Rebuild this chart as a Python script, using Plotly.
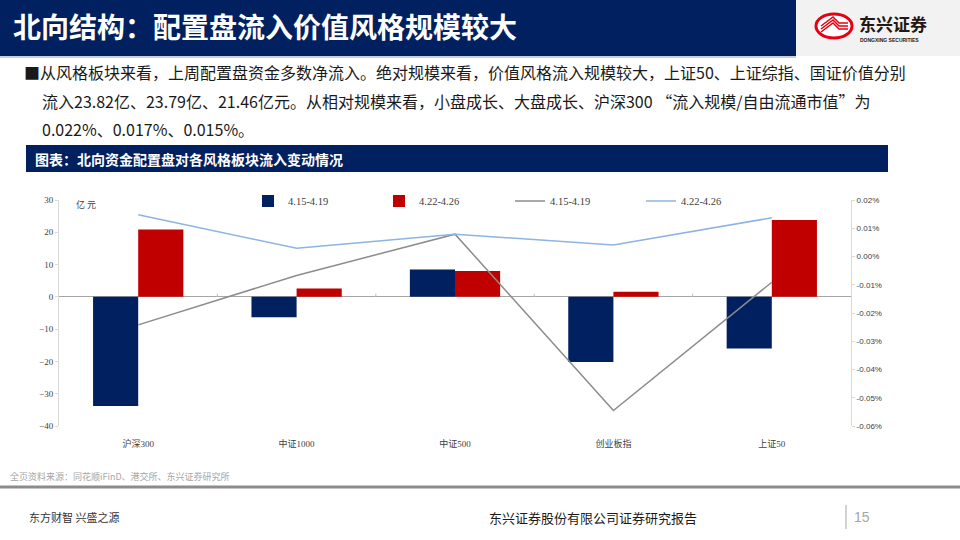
import plotly.graph_objects as go

W, H = 960, 540

categories = ["沪深300", "中证1000", "中证500", "创业板指", "上证50"]
bar_w1 = [-33.8, -6.3, 8.5, -20.2, -16.0]      # 4.15-4.19 亿元
bar_w2 = [20.9, 2.6, 8.0, 1.6, 23.82]          # 4.22-4.26 亿元
line_w1 = [-0.0242, -0.0067, 0.0079, -0.0545, -0.0091]  # 4.15-4.19 %
line_w2 = [0.0148, 0.0029, 0.0079, 0.0041, 0.0137]      # 4.22-4.26 %
series_names = ["4.15-4.19", "4.22-4.26"]
left_ticks = [30, 20, 10, 0, -10, -20, -30, -40]
right_ticks = [0.02, 0.01, 0.0, -0.01, -0.02, -0.03, -0.04, -0.05, -0.06]
right_tick_text = [f"{v:.2f}%" for v in right_ticks]

NAVY = "#002060"
RED = "#C00000"
GRAY = "#8C8C8C"
LBLUE = "#8DB4E2"
CJK = "Noto Sans CJK SC"
SERIF = "Liberation Serif, Noto Sans CJK SC"


def px(x):
    return x / W


def py(y):
    return 1 - y / H


fig = go.Figure()
fig.add_trace(go.Bar(x=categories, y=bar_w1, name=series_names[0],
                     marker=dict(color=NAVY, line=dict(width=0))))
fig.add_trace(go.Bar(x=categories, y=bar_w2, name=series_names[1],
                     marker=dict(color=RED, line=dict(width=0))))
fig.add_trace(go.Scatter(x=categories, y=line_w1, name=series_names[0], yaxis="y2",
                         mode="lines", line=dict(color=GRAY, width=1.5)))
fig.add_trace(go.Scatter(x=categories, y=line_w2, name=series_names[1], yaxis="y2",
                         mode="lines", line=dict(color=LBLUE, width=1.5)))

shapes = []
annotations = []

# header
shapes.append(dict(type="rect", xref="paper", yref="paper", x0=0, x1=px(796), y0=py(56), y1=1,
                   fillcolor=NAVY, line=dict(width=0), layer="below"))
shapes.append(dict(type="rect", xref="paper", yref="paper", x0=px(796), x1=1, y0=py(56), y1=1,
                   fillcolor="#F2F2F2", line=dict(width=0), layer="below"))
shapes.append(dict(type="line", xref="paper", yref="paper", x0=0, x1=px(796), y0=py(57), y1=py(57),
                   line=dict(color="#B4C0DA", width=1.5)))
annotations.append(dict(text="<b>北向结构：配置盘流入价值风格规模较大</b>", x=px(11), y=py(26),
                        xref="paper", yref="paper", xanchor="left", yanchor="middle", showarrow=False,
                        font=dict(family=CJK, size=28, color="white")))
# logo
shapes.append(dict(type="circle", xref="paper", yref="paper", x0=px(816), x1=px(852), y0=py(38), y1=py(14),
                   fillcolor="white", line=dict(color="#E60012", width=3)))
for dy in (-3, 0, 3):
    shapes.append(dict(type="path", xref="paper", yref="paper",
                       path=f"M {px(821)},{py(29 + dy)} L {px(833)},{py(20 + dy)} L {px(839)},{py(26 + dy)} L {px(848)},{py(26 + dy)}",
                       line=dict(color="#E60012", width=1.5)))
annotations.append(dict(text="<b>东兴证券</b>", x=px(857), y=py(24), xref="paper", yref="paper",
                        xanchor="left", yanchor="middle", showarrow=False,
                        font=dict(family=CJK, size=17, color="#231815")))
annotations.append(dict(text="<b>DONGXING SECURITIES</b>", x=px(858), y=py(40), xref="paper", yref="paper",
                        xanchor="left", yanchor="middle", showarrow=False,
                        font=dict(family="Liberation Sans", size=5, color="#231815")))

# bullet text
body = [
    (22, 72, "■从风格板块来看，上周配置盘资金多数净流入。绝对规模来看，价值风格流入规模较大，上证50、上证综指、国证价值分别"),
    (40, 101, "流入23.82亿、23.79亿、21.46亿元。从相对规模来看，小盘成长、大盘成长、沪深300 “流入规模/自由流通市值”为"),
    (40, 129, "0.022%、0.017%、0.015%。"),
]
for x0, y0, t in body:
    annotations.append(dict(text=t, x=px(x0), y=py(y0), xref="paper", yref="paper",
                            xanchor="left", yanchor="middle", showarrow=False,
                            font=dict(family=CJK, size=16, color="#1a1a1a")))

# chart title banner
shapes.append(dict(type="rect", xref="paper", yref="paper", x0=px(26), x1=px(888), y0=py(172), y1=py(145),
                   fillcolor=NAVY, line=dict(width=0), layer="below"))
annotations.append(dict(text="<b>图表：北向资金配置盘对各风格板块流入变动情况</b>", x=px(33), y=py(158.5),
                        xref="paper", yref="paper", xanchor="left", yanchor="middle", showarrow=False,
                        font=dict(family=CJK, size=14, color="white")))

# unit label
annotations.append(dict(text="亿 元", x=px(74), y=py(204), xref="paper", yref="paper",
                        xanchor="left", yanchor="middle", showarrow=False,
                        font=dict(family=CJK, size=9, color="#404040")))

# small category-boundary ticks on the zero line
for b in (0.5, 1.5, 2.5, 3.5):
    shapes.append(dict(type="line", xref="x", yref="y", x0=b, x1=b, y0=0, y1=1.0,
                       line=dict(color="#BFBFBF", width=1)))

# footer
annotations.append(dict(text="全页资料来源：同花顺iFinD、港交所、东兴证券研究所", x=px(8), y=py(476),
                        xref="paper", yref="paper", xanchor="left", yanchor="middle", showarrow=False,
                        font=dict(family=CJK, size=9, color="#A6A6A6")))
shapes.append(dict(type="line", xref="paper", yref="paper", x0=0, x1=1, y0=py(487), y1=py(487),
                   line=dict(color="#8C8C8C", width=3)))
annotations.append(dict(text="东方财智 兴盛之源", x=px(27), y=py(517), xref="paper", yref="paper",
                        xanchor="left", yanchor="middle", showarrow=False,
                        font=dict(family=CJK, size=11, color="#333333")))
annotations.append(dict(text="东兴证券股份有限公司证券研究报告", x=px(487), y=py(517), xref="paper", yref="paper",
                        xanchor="left", yanchor="middle", showarrow=False,
                        font=dict(family=CJK, size=13, color="#1a1a1a")))
shapes.append(dict(type="line", xref="paper", yref="paper", x0=px(846), x1=px(846), y0=py(505), y1=py(529),
                   line=dict(color="#A6A6A6", width=1)))
annotations.append(dict(text="15", x=px(852), y=py(517), xref="paper", yref="paper",
                        xanchor="left", yanchor="middle", showarrow=False,
                        font=dict(family="Liberation Sans", size=14, color="#A6A6A6")))

fig.update_layout(
    width=W, height=H,
    margin=dict(l=0, r=0, t=0, b=0, autoexpand=False),
    paper_bgcolor="white", plot_bgcolor="white",
    barmode="group", bargap=0.43, bargroupgap=0,
    showlegend=True,
    legend=dict(orientation="h", x=px(248), y=py(201), xanchor="left", yanchor="middle",
                entrywidth=86, entrywidthmode="pixels", itemwidth=30,
                font=dict(family=SERIF, size=10.5, color="#404040"),
                bgcolor="rgba(0,0,0,0)", tracegroupgap=0),
    xaxis=dict(domain=[px(59), px(851)], showline=False, ticks="outside", ticklen=9,
               tickcolor="rgba(0,0,0,0)", showgrid=False,
               tickfont=dict(family=SERIF, size=9, color="#404040"), zeroline=False,
               anchor="y", automargin=False),
    yaxis=dict(domain=[py(426), py(200)], range=[-40, 30], tickvals=left_ticks,
               showgrid=False, showline=True, linecolor="#D9D9D9", linewidth=1,
               ticks="outside", ticklen=3, tickcolor="#D9D9D9",
               zeroline=True, zerolinecolor="#A6A6A6", zerolinewidth=1,
               tickfont=dict(family=SERIF, size=9, color="#404040"), anchor="x",
               automargin=False),
    yaxis2=dict(domain=[py(426), py(200)], range=[-0.06, 0.02], tickvals=right_ticks,
                ticktext=right_tick_text, overlaying="y", side="right",
                showgrid=False, showline=True, linecolor="#D9D9D9", linewidth=1,
                ticks="outside", ticklen=3, tickcolor="#D9D9D9", zeroline=False,
                tickfont=dict(family="Liberation Sans", size=8, color="#404040"), anchor="x",
                automargin=False),
    shapes=shapes,
    annotations=annotations,
)

fig.write_html("out.html", config={"displayModeBar": False},
               post_script="document.body.style.margin='0';document.body.style.overflow='hidden';")
